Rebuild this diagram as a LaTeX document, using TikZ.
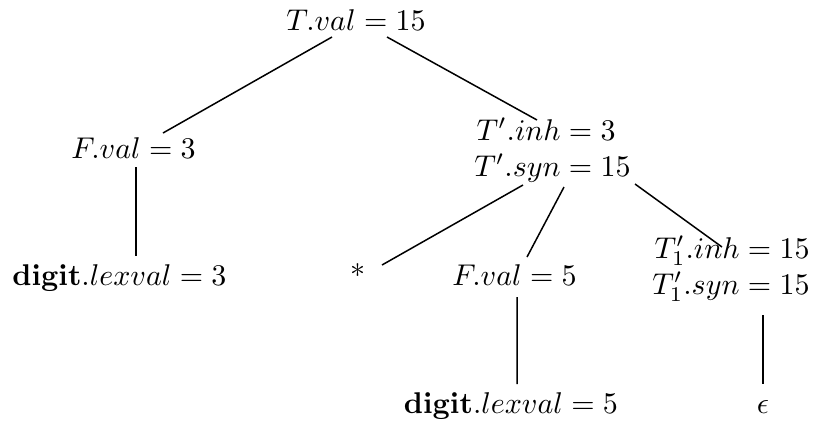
\documentclass[tikz,border=0pt]{standalone}
\begin{document}
\begin{tikzpicture}[x=0.3333pt, y=-0.3333pt,
  attr/.style={inner sep=0pt},
  edge/.style={line width=0.5pt}]
\useasboundingbox (0,0) rectangle (815,423);
% annotated parse tree for 3*5
\node[attr,anchor=base] (top) at (356,30) {$T.val = 15$};
\node[attr,anchor=base] (fv3) at (133.5,158) {$F.val = 3$};
\node[attr] (tp) at (552.5,151) {$\begin{array}{@{}r@{}l@{}} T'.inh & {}= 3\\ T'.syn & {}= 15 \end{array}$};
\node[attr,anchor=base] (dg3) at (119.5,285) {$\mathbf{digit}.lexval = 3$};
\node[attr] (star) at (358,271) {$*$};
\node[attr,anchor=base] (fv5) at (514.5,285) {$F.val = 5$};
\node[attr] (t1) at (731,269) {$\begin{array}{@{}r@{}l@{}} T'_1.inh & {}= 15\\ T'_1.syn & {}= 15 \end{array}$};
\node[attr,anchor=base] (dg5) at (511,413) {$\mathbf{digit}.lexval = 5$};
\node[attr,anchor=base] (eps) at (763,413) {$\epsilon$};
\draw[edge] ([shift={(-24,7)}]top.base) -- ([shift={(29.5,-25)}]fv3.base);
\draw[edge] ([shift={(31,7)}]top.base) -- ([shift={(-15.5,-31)}]tp.center);
\draw[edge] ([shift={(2.5,9)}]fv3.base) -- ([shift={(16.5,-29)}]dg3.base);
\draw[edge] ([shift={(-29.5,34)}]tp.center) -- ([shift={(24,-6)}]star.center);
\draw[edge] ([shift={(11.5,36)}]tp.center) -- ([shift={(12.5,-28)}]fv5.base);
\draw[edge] ([shift={(82.5,33)}]tp.center) -- ([shift={(-9,-22)}]t1.center);
\draw[edge] ([shift={(2.5,12)}]fv5.base) -- ([shift={(6,-29)}]dg5.base);
\draw[edge] ([shift={(32,46)}]t1.center) -- ([shift={(0,-29)}]eps.base);
\end{tikzpicture}
\end{document}
